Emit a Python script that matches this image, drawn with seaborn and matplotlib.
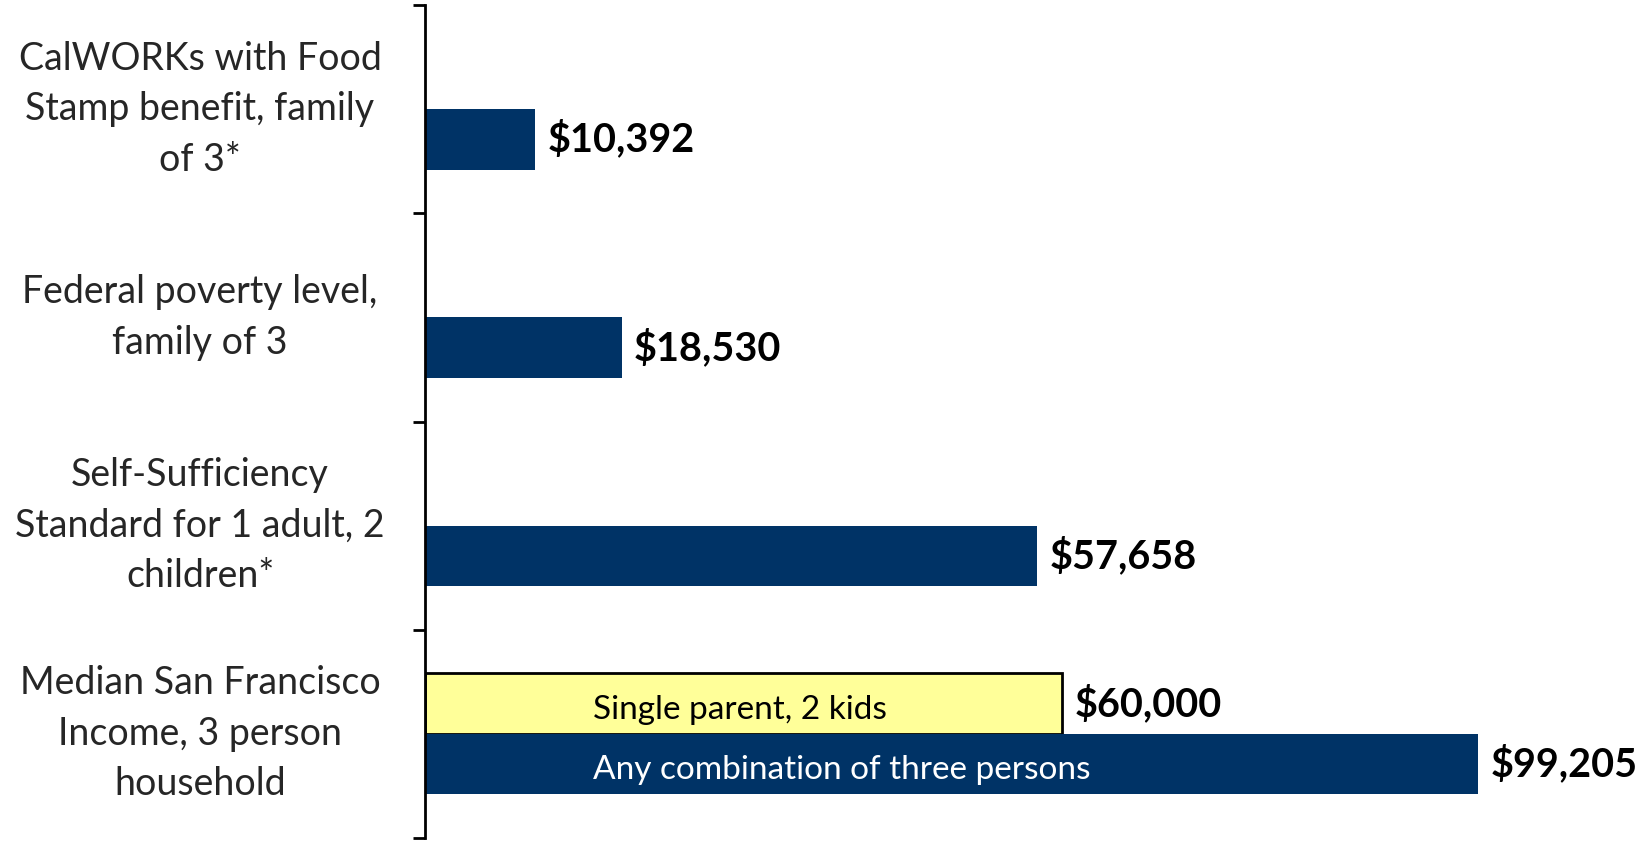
import pandas as pd
import seaborn as sns
import matplotlib.pyplot as plt

# data
categories = [
    "CalWORKs with Food\nStamp benefit, family\nof 3*",
    "Federal poverty level,\nfamily of 3",
    "Self-Sufficiency\nStandard for 1 adult, 2\nchildren*",
    "Median San Francisco\nIncome, 3 person\nhousehold",
]
series_names = ["Single parent, 2 kids", "Any combination of three persons"]
single_parent = [None, None, None, 60000]
any_combination = [10392, 18530, 57658, 99205]

yellow = "#FFFF99"
navy = "#003366"

rows = []
for cat, a, b in zip(categories, single_parent, any_combination):
    if a is not None:
        rows.append({"category": cat, "series": series_names[0], "value": a})
    rows.append({"category": cat, "series": series_names[1], "value": b})
df = pd.DataFrame(rows)

sns.set_theme(style="white")
plt.rcParams["font.family"] = ["Lato", "DejaVu Sans"]

fig = plt.figure(figsize=(16.39, 8.42), dpi=100)
ax = fig.add_axes([425 / 1639, 4 / 842, 1 - 425 / 1639, 1 - 9 / 842])

sns.barplot(data=df, x="value", y="category", hue="series", order=categories,
            hue_order=series_names, palette=[yellow, navy], width=0.58,
            orient="h", saturation=1, legend=False, linewidth=0, ax=ax)

ax.set_xlim(0, 114400)
ax.set_ylim(len(categories) - 0.5, -0.5)
ax.set_xlabel("")
ax.set_ylabel("")
ax.set_xticks([])

for s in ["top", "right", "bottom"]:
    ax.spines[s].set_visible(False)
ax.spines["left"].set_color("black")
ax.spines["left"].set_linewidth(2)

# category boundaries get the tick marks, labels sit at the centres
ax.set_yticks([i - 0.5 for i in range(len(categories) + 1)], minor=True)
ax.tick_params(axis="y", which="minor", length=9, width=2, color="black", direction="out", left=True)
ax.tick_params(axis="y", which="major", length=0, pad=162, labelsize=27)
for lbl in ax.get_yticklabels():
    lbl.set_ha("center")
    lbl.set_va("center")
    lbl.set_multialignment("center")
    lbl.set_linespacing(1.5)

for p in ax.patches:
    w = p.get_width()
    if not w or w != w:
        continue
    yc = p.get_y() + p.get_height() / 2
    fc = p.get_facecolor()
    is_yellow = fc[0] > 0.5
    if is_yellow:
        p.set_edgecolor("black")
        p.set_linewidth(2)
    else:
        p.set_linewidth(0)
    ax.annotate(f"${w:,.0f}", (w, yc), xytext=(9, 0), textcoords="offset points",
                ha="left", va="center", fontsize=28.5, fontweight="bold", color="black")
    if yc > 3 - 0.5:
        ax.text(15800, yc + 0.03, series_names[0] if is_yellow else series_names[1],
                ha="left", va="center", fontsize=24,
                color="black" if is_yellow else "white")

fig.savefig("out.png", dpi=100)
